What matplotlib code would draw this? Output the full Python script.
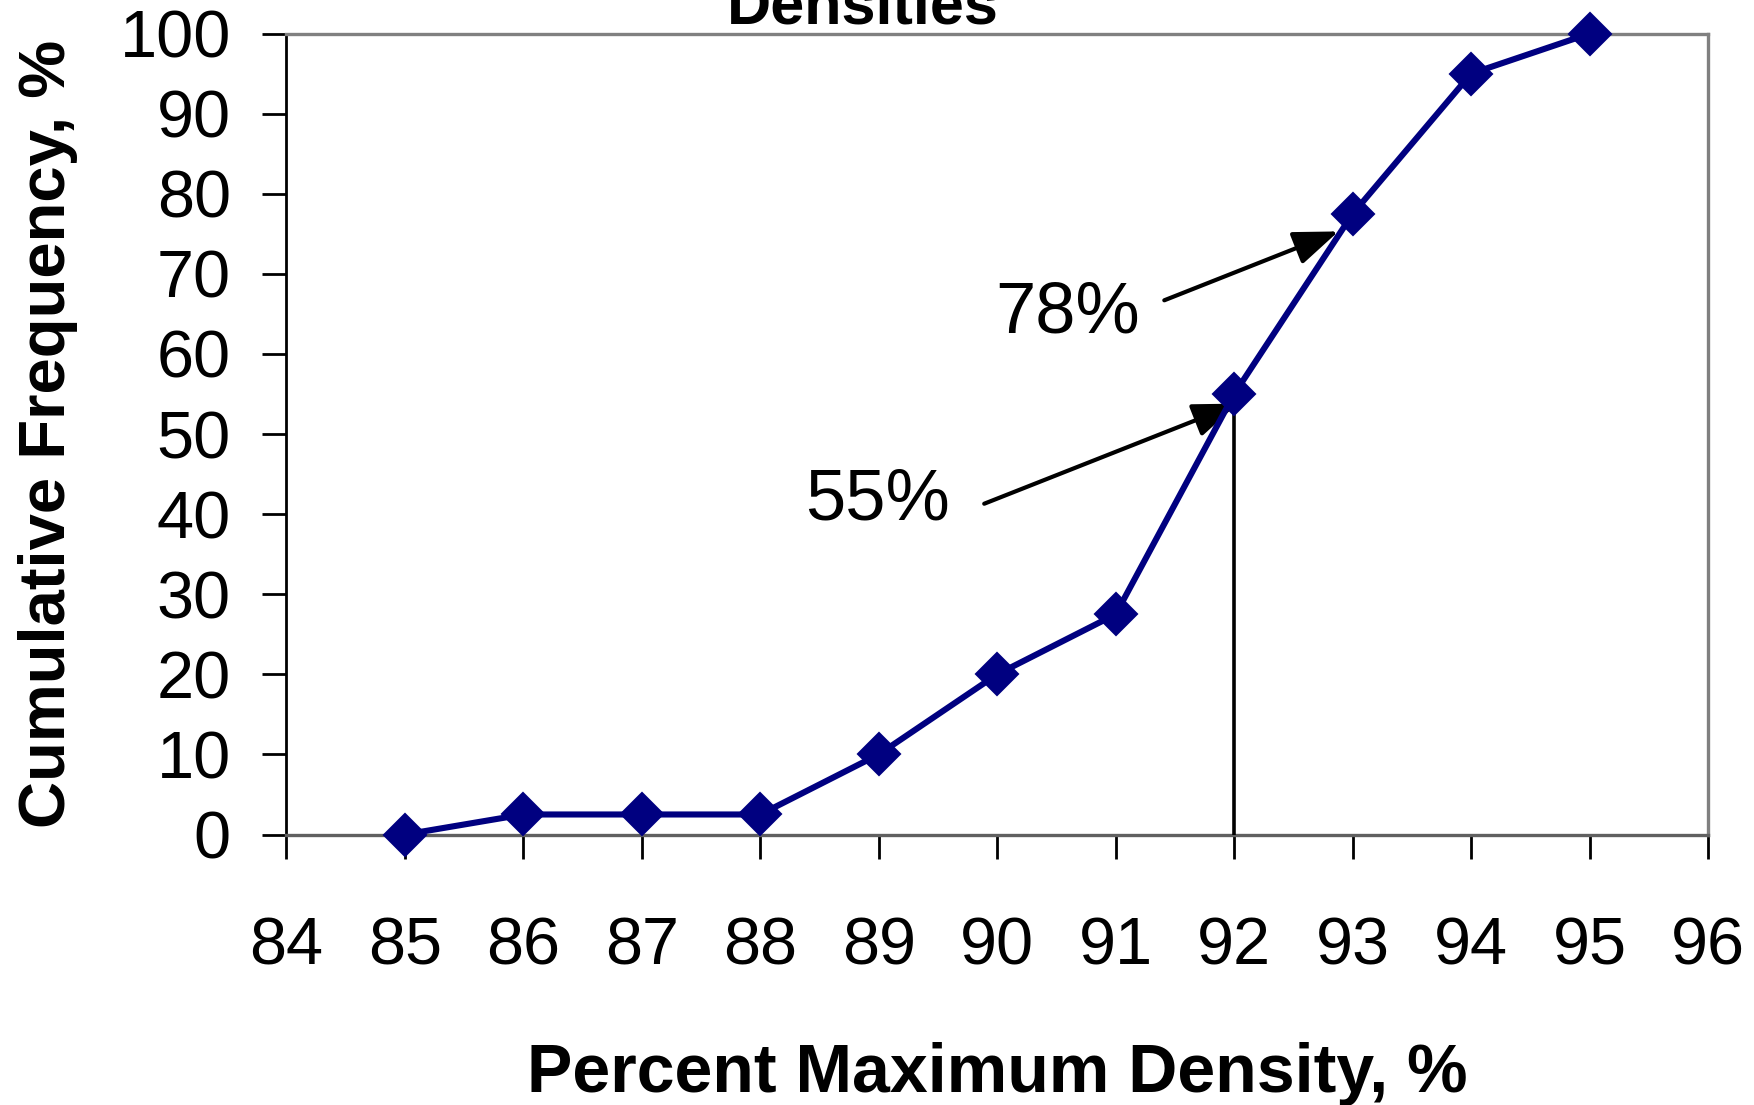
import matplotlib
matplotlib.use("Agg")
import matplotlib.pyplot as plt
from matplotlib.patches import ArrowStyle

plt.rcParams['font.family'] = ['Liberation Sans', 'DejaVu Sans']

# data
density = [85, 86, 87, 88, 89, 90, 91, 92, 93, 94, 95]
cum_freq = [0, 2.5, 2.5, 2.5, 10, 20, 27.5, 55, 77.5, 95, 100]
x_ticks = [84, 85, 86, 87, 88, 89, 90, 91, 92, 93, 94, 95, 96]
y_ticks = [0, 10, 20, 30, 40, 50, 60, 70, 80, 90, 100]
marks = ["55%", "78%"]
mark_text_xy = [(88.99, 39.3), (90.59, 62.7)]
mark_tail_xy = [(89.89, 41.3), (91.41, 66.7)]
mark_head_xy = [(92.03, 53.8), (92.88, 75.3)]
cut_x = 92
cut_y = 55

navy = "#000080"

fig = plt.figure(figsize=(17.54, 11.05), dpi=100)
ax = fig.add_axes([286.4 / 1754, 1 - 834.5 / 1105, (1708.1 - 286.4) / 1754, (834.5 - 33.6) / 1105])

ax.plot(density, cum_freq, color=navy, lw=4.4, marker="D", ms=21,
        mfc=navy, mec=navy, mew=1.5, clip_on=False, zorder=5)

ax.plot([cut_x, cut_x], [0, cut_y], color="black", lw=2.6, zorder=4)

arrow = ArrowStyle("-|>", head_length=0.95, head_width=0.36)
for txt, txy, tail, head in zip(marks, mark_text_xy, mark_tail_xy, mark_head_xy):
    ax.text(txy[0], txy[1], txt, ha="center", va="baseline", fontsize=52)
    ax.annotate("", xy=head, xytext=tail,
                arrowprops=dict(arrowstyle=arrow, color="black", lw=3.0,
                                mutation_scale=29, shrinkA=0, shrinkB=0))

ax.set_xlim(84, 96)
ax.set_ylim(0, 100)
ax.set_xticks(x_ticks)
ax.set_yticks(y_ticks)
ax.tick_params(axis="x", labelsize=48, length=17, width=2.0, pad=42, direction="out")
ax.tick_params(axis="y", labelsize=48, length=17, width=2.0, pad=23, direction="out")

ax.spines["top"].set_color("#808080")
ax.spines["right"].set_color("#808080")
ax.spines["top"].set_linewidth(2.4)
ax.spines["right"].set_linewidth(2.4)
ax.spines["bottom"].set_color("#606060")
ax.spines["bottom"].set_linewidth(2.4)
ax.spines["left"].set_color("black")
ax.spines["left"].set_linewidth(2.0)

ax.set_xlabel("Percent Maximum Density, %", fontsize=49, fontweight="bold", labelpad=46)
ax.set_ylabel("Cumulative Frequency, %", fontsize=47, fontweight="bold", labelpad=30)

fig.text(863 / 1754, 1 - 24 / 1105, "Densities", ha="center", va="baseline",
         fontsize=44, fontweight="bold")

fig.savefig("out.png", dpi=100)
